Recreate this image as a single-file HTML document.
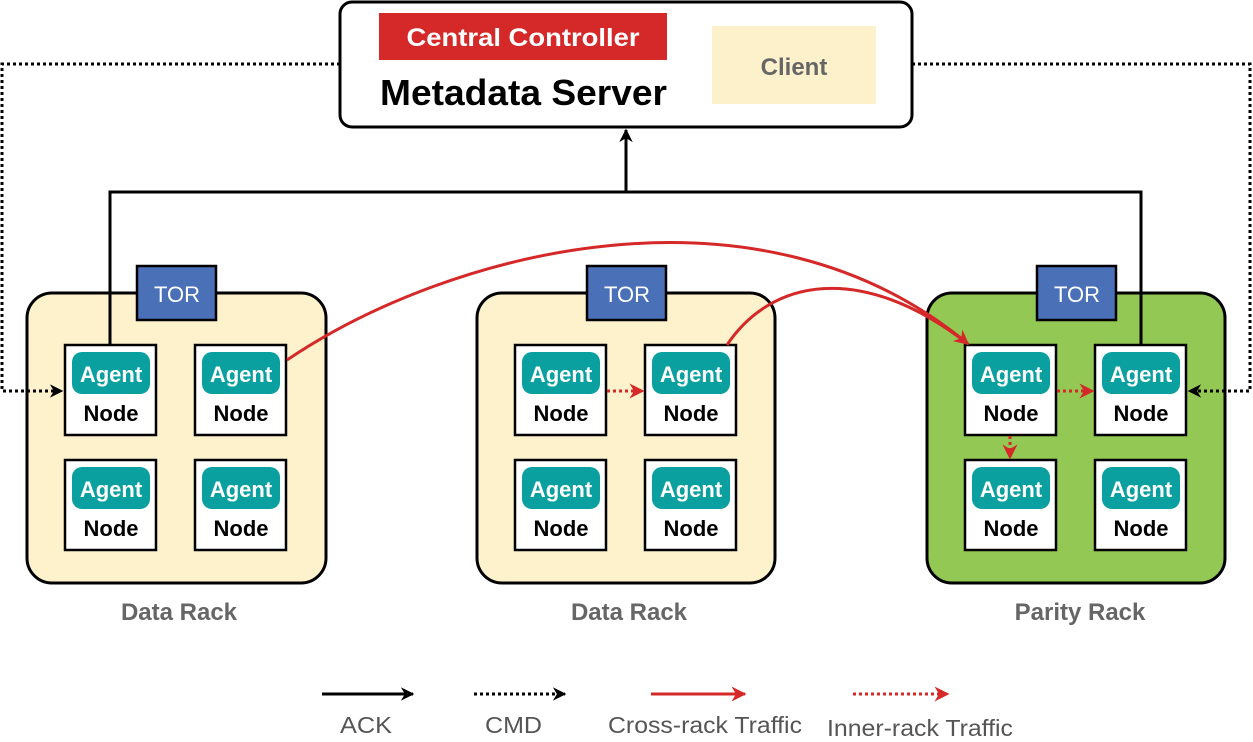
<!DOCTYPE html>
<html><head><meta charset="utf-8"><style>body{margin:0;background:#fff}svg{display:block}text{font-family:"Liberation Sans",Arial,sans-serif}</style></head><body>
<svg width="1253" height="742" viewBox="0 0 1253 742" xmlns="http://www.w3.org/2000/svg">
<defs>
<marker id="ab" viewBox="0 0 10 10" refX="9" refY="5" markerWidth="4.5" markerHeight="4.5" orient="auto" markerUnits="strokeWidth"><path d="M0,0 L10,5 L0,10 L3,5z" fill="#000"/></marker>
<marker id="ar" viewBox="0 0 10 10" refX="9" refY="5" markerWidth="5" markerHeight="5" orient="auto" markerUnits="strokeWidth"><path d="M0,0 L10,5 L0,10 L3,5z" fill="#d52828"/></marker>
</defs>
<!-- ACK -->
<g fill="none" stroke="#000" stroke-width="3">
<path d="M110,345 V192 H1141 V345"/>
<path d="M626,192 V130" marker-end="url(#ab)"/>
</g>
<!-- top box -->
<rect x="340" y="2" width="572" height="125" rx="12" fill="#fff" stroke="#000" stroke-width="3"/>
<rect x="379" y="13" width="288" height="47" fill="#d52828"/>
<text x="523" y="46" text-anchor="middle" font-size="25" font-weight="bold" fill="#fff" textLength="233" lengthAdjust="spacingAndGlyphs">Central Controller</text>
<text x="380" y="105" font-size="36" font-weight="bold" fill="#000" textLength="287" lengthAdjust="spacingAndGlyphs">Metadata Server</text>
<rect x="712" y="26" width="164" height="78" fill="#fdf1cc"/>
<text x="794" y="75" text-anchor="middle" font-size="24" font-weight="bold" fill="#666">Client</text>
<!-- racks -->
<g stroke="#000" stroke-width="3">
<rect x="27" y="293" width="299" height="290" rx="25" fill="#fef2cc"/>
<rect x="477" y="293" width="298" height="290" rx="25" fill="#fef2cc"/>
<rect x="927" y="293" width="298" height="290" rx="25" fill="#92c853"/>
</g>
<!-- CMD dotted -->
<g fill="none" stroke="#000" stroke-width="3" stroke-dasharray="3,3">
<path d="M340,64 H2 V391 H62" marker-end="url(#ab)"/>
<path d="M912,64 H1250 V391 H1189" marker-end="url(#ab)"/>
</g>
<path d="M110,293 V345" stroke="#000" stroke-width="3"/>
<path d="M1141,293 V345" stroke="#000" stroke-width="3"/>
<g stroke="#000" stroke-width="2.5" fill="#4a70b8">
<rect x="137" y="266" width="79" height="54"/>
<rect x="587" y="266" width="79" height="54"/>
<rect x="1037" y="266" width="79" height="54"/>
</g>
<g font-size="22" fill="#fff" text-anchor="middle">
<text x="177" y="302">TOR</text><text x="627" y="302">TOR</text><text x="1077" y="302">TOR</text>
</g>
<!-- nodes -->
<g id="n">
<rect x="65" y="345" width="91" height="90" fill="#fff" stroke="#000" stroke-width="2.5"/>
<rect x="72" y="352" width="78" height="42" rx="10" fill="#0aa0a0"/>
<text x="111" y="382" text-anchor="middle" font-size="22" font-weight="bold" fill="#fff">Agent</text>
<text x="111" y="421" text-anchor="middle" font-size="22" font-weight="bold" fill="#000">Node</text>
</g>
<use href="#n" x="130"/><use href="#n" y="115"/><use href="#n" x="130" y="115"/>
<use href="#n" x="450"/><use href="#n" x="580"/><use href="#n" x="450" y="115"/><use href="#n" x="580" y="115"/>
<use href="#n" x="900"/><use href="#n" x="1030"/><use href="#n" x="900" y="115"/><use href="#n" x="1030" y="115"/>
<!-- rack labels -->
<g font-size="24" font-weight="bold" fill="#666" text-anchor="middle">
<text x="179" y="620">Data Rack</text><text x="629" y="620">Data Rack</text><text x="1080" y="620">Parity Rack</text>
</g>
<!-- cross rack -->
<g fill="none" stroke="#d52828" stroke-width="3">
<path d="M287,360 C450,250 760,170 968,344" marker-end="url(#ar)"/>
<path d="M727,345 C770,280 860,260 968,344"/>
</g>
<g fill="none" stroke="#d52828" stroke-width="3" stroke-dasharray="3,3">
<path d="M607,391 H643" marker-end="url(#ar)"/>
<path d="M1057,391 H1093" marker-end="url(#ar)"/>
<path d="M1010,436 V458" marker-end="url(#ar)"/>
</g>
<!-- legend -->
<path d="M322,694 H413" stroke="#000" stroke-width="3" marker-end="url(#ab)"/>
<path d="M474,694 H565" stroke="#000" stroke-width="3" stroke-dasharray="3,3" marker-end="url(#ab)"/>
<path d="M651,694 H745" stroke="#d52828" stroke-width="3" marker-end="url(#ar)"/>
<path d="M853,694 H948" stroke="#d52828" stroke-width="3" stroke-dasharray="3,3" marker-end="url(#ar)"/>
<g font-size="23" fill="#555">
<text x="340" y="733" textLength="52" lengthAdjust="spacingAndGlyphs">ACK</text>
<text x="485" y="733" textLength="57" lengthAdjust="spacingAndGlyphs">CMD</text>
<text x="608" y="733" textLength="194" lengthAdjust="spacingAndGlyphs">Cross-rack Traffic</text>
<text x="827" y="736" textLength="186" lengthAdjust="spacingAndGlyphs">Inner-rack Traffic</text>
</g>
</svg>
</body></html>
